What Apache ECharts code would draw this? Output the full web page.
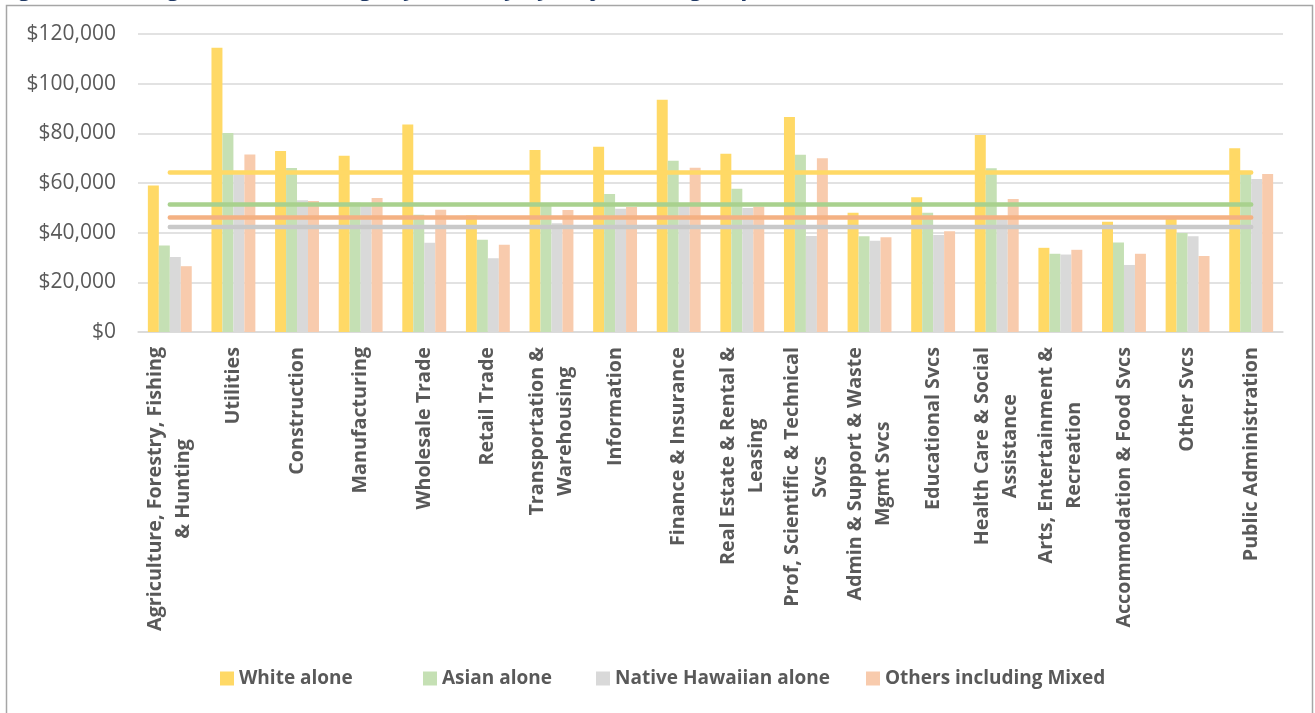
<!DOCTYPE html>
<html>
<head>
<meta charset="utf-8">
<script src="https://cdn.jsdelivr.net/npm/echarts@6/dist/echarts.min.js"></script>
<style>
  html, body { margin: 0; padding: 0; background: #ffffff; }
  #chart { width: 1315px; height: 713px; }
</style>
</head>
<body>
<div id="chart"></div>
<script>
// Industries (line breaks follow the wrapped axis labels)
const industries = [
  'Agriculture, Forestry, Fishing\n& Hunting',
  'Utilities',
  'Construction',
  'Manufacturing',
  'Wholesale Trade',
  'Retail Trade',
  'Transportation &\nWarehousing',
  'Information',
  'Finance & Insurance',
  'Real Estate & Rental &\nLeasing',
  'Prof, Scientific & Technical\nSvcs',
  'Admin & Support & Waste\nMgmt Svcs',
  'Educational Svcs',
  'Health Care & Social\nAssistance',
  'Arts, Entertainment &\nRecreation',
  'Accommodation & Food Svcs',
  'Other Svcs',
  'Public Administration'
];

// Average annual earnings by race group ($)
const whiteAlone = [59000, 114500, 72900, 71000, 83600, 46900, 73300, 74600, 93500, 71800, 86600, 48000, 54300, 79300, 33900, 44400, 46500, 74000];
const asianAlone = [34800, 80100, 66000, 52000, 47200, 37100, 51500, 55600, 69000, 57700, 71400, 38600, 48000, 65900, 31500, 36000, 39900, 64800];
const nativeHawaiianAlone = [30200, 63500, 53100, 50800, 35900, 29700, 43800, 49600, 51500, 49900, 38700, 36700, 39100, 46000, 31200, 27000, 38600, 61600];
const othersInclMixed = [26500, 71500, 52800, 54000, 49200, 35100, 49100, 50300, 66100, 50500, 70000, 38200, 40600, 53600, 33100, 31500, 30600, 63600];

// All-industry averages for each group
const avgWhite = 64200;
const avgAsian = 51300;
const avgNativeHawaiian = 42300;
const avgOthers = 46100;

// Axis ticks
const yMin = 0;
const yMax = 120000;
const yStep = 20000;

const seriesNames = ['White alone', 'Asian alone', 'Native Hawaiian alone', 'Others including Mixed'];
const barValues = [whiteAlone, asianAlone, nativeHawaiianAlone, othersInclMixed];
const averages = [avgWhite, avgAsian, avgNativeHawaiian, avgOthers];
const barColors = ['#FFD966', '#C5E0B4', '#D9D9D9', '#F8CBAD'];
const lineColors = ['#FFD966', '#A9D18E', '#C9C9C9', '#F4B183'];
// left edge of each legend entry
const legendLefts = [220, 423, 596, 866];

const FONT = '"Open Sans", "Liberation Sans", sans-serif';
const TEXT = '#595959';

const chart = echarts.init(document.getElementById('chart'), null, { renderer: 'canvas' });

const barSeries = seriesNames.map((name, i) => ({
  name: name,
  type: 'bar',
  data: barValues[i],
  barGap: '0%',
  barCategoryGap: '31%',
  itemStyle: { color: barColors[i] },
  z: 2
}));

const avgSeries = seriesNames.map((name, i) => ({
  name: name + ' average',
  type: 'line',
  data: industries.map(() => averages[i]),
  showSymbol: false,
  symbol: 'none',
  lineStyle: { color: lineColors[i], width: 4.5, cap: 'round' },
  silent: true,
  z: 5
}));

const legends = seriesNames.map((name, i) => ({
  data: [name],
  bottom: 25,
  left: legendLefts[i],
  padding: 0,
  itemWidth: 14,
  itemHeight: 14,
  icon: 'rect',
  textStyle: { color: TEXT, fontSize: 19, fontWeight: 'bold', fontFamily: FONT }
}));

chart.setOption({
  animation: false,
  backgroundColor: '#ffffff',
  textStyle: { fontFamily: FONT },
  graphic: [
    {
      type: 'text',
      left: 0,
      top: -24,
      z: 10,
      style: {
        text: 'Figure 6: Average Annual Earnings by Industry by Major Race group ($)',
        font: 'italic bold 24px ' + FONT,
        fill: '#1F3864'
      }
    },
    {
      type: 'rect',
      z: 10,
      shape: { x: 6.5, y: 5.5, width: 1306, height: 760 },
      style: { fill: 'none', stroke: '#A6A6A6', lineWidth: 1.5 }
    }
  ],
  grid: { left: 138, right: 32, top: 34, bottom: 381, containLabel: false },
  legend: legends,
  xAxis: {
    type: 'category',
    data: industries,
    axisLine: { lineStyle: { color: '#D9D9D9', width: 1.5 } },
    axisTick: { show: false },
    axisLabel: {
      interval: 0,
      rotate: 90,
      margin: 15,
      formatter: (v) => v.split('\n').map(s => '{c|' + s + '}').join('\n'),
      rich: {
        c: {
          align: 'center',
          fontSize: 19.7,
          fontWeight: 'bold',
          color: TEXT,
          lineHeight: 28,
          fontFamily: FONT
        }
      }
    }
  },
  yAxis: {
    type: 'value',
    min: yMin,
    max: yMax,
    interval: yStep,
    axisLine: { show: false },
    axisTick: { show: false },
    splitLine: { lineStyle: { color: '#D9D9D9', width: 1.5 } },
    axisLabel: {
      margin: 22,
      color: TEXT,
      fontSize: 21,
      fontFamily: FONT,
      formatter: (v) => '$' + v.toLocaleString('en-US')
    }
  },
  series: barSeries.concat(avgSeries)
});
</script>
</body>
</html>
